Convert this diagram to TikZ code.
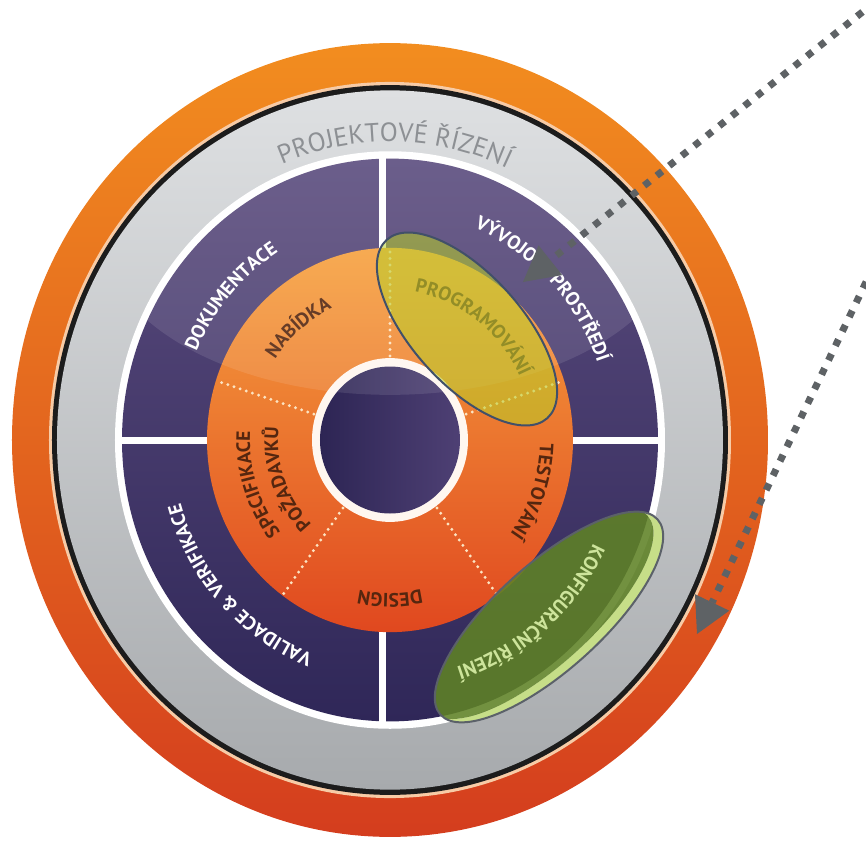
\documentclass[tikz,border=0pt]{standalone}
\usepackage{fontspec}
\usepackage{tikz}
\usetikzlibrary{arrows.meta}
\usetikzlibrary{decorations.text}

\newfontfamily\ptsans{PT Sans}

\definecolor{ringtop}{HTML}{F28D1F}
\definecolor{ringbottom}{HTML}{D43D1E}
\definecolor{peach}{HTML}{F7CBA6}
\definecolor{rimblack}{HTML}{1C1C1C}
\definecolor{greytop}{HTML}{DEE0E2}
\definecolor{greybottom}{HTML}{A7AAAD}
\definecolor{plumtop}{HTML}{5B4C7E}
\definecolor{plumbottom}{HTML}{2F2758}
\definecolor{disctop}{HTML}{F6A23F}
\definecolor{discmid}{HTML}{F08A22}
\definecolor{discbottom}{HTML}{E0481F}
\definecolor{hubleft}{HTML}{2D2554}
\definecolor{hubright}{HTML}{4E4074}
\definecolor{dotcream}{HTML}{FCE4C2}
\definecolor{titlegrey}{HTML}{8D9094}
\definecolor{phasebrown}{HTML}{55260F}
\definecolor{marker}{HTML}{B8D027}
\definecolor{slate}{HTML}{415069}
\definecolor{moss}{HTML}{5F8226}
\definecolor{lime}{HTML}{C6DE88}
\definecolor{limetext}{HTML}{CDE49B}
\definecolor{rimgrey}{HTML}{5B6169}
\definecolor{arrowgrey}{HTML}{5E6265}

\newcommand\titletext{\ptsans\fontsize{15}{17}\selectfont\color{titlegrey}}
\newcommand\quadtext{\ptsans\bfseries\fontsize{11}{13}\selectfont\color{white}}
\newcommand\phasetext{\ptsans\bfseries\fontsize{11}{13}\selectfont\color{phasebrown}}
\newcommand\cfgtext{\ptsans\bfseries\fontsize{11}{13}\selectfont\color{limetext}}

\begin{document}
\begin{tikzpicture}[
            x = 0.02cm, y = 0.02cm, % one unit = one pixel of the sketch
            > = {Triangle[length=7mm, width=7.6mm, line width=0pt]},
            ringlabel/.style = {decorate, decoration={text along path, text align=center, text={#1}}},
            crossbar/.style = {draw=white, line width=0.14cm},
            divider/.style = {draw=dotcream, line width=0.065cm, line cap=round, dash pattern=on 0pt off 0.13cm},
            pointer/.style = {draw=arrowgrey, line width=0.14cm, dash pattern=on 0.14cm off 0.18cm, ->}
        ]

        \useasboundingbox (-390,-403) rectangle (476,440);

	% RINGS (SKETCH IS A BIT TALLER THAN WIDE)
        \begin{scope}[yscale=1.05]
        \coordinate (hub) at (0,0);
        \shade[top color=ringtop, bottom color=ringbottom] (hub) circle (378);
        \fill[peach] (hub) circle (341);
        \fill[rimblack] (hub) circle (338);
        \shade[top color=greytop, bottom color=greybottom] (hub) circle (333);
        \fill[white] (hub) circle (275);
        \shade[top color=plumtop, bottom color=plumbottom] (hub) circle (268);
        \draw[crossbar] (-7,-272) -- (-7,272) (-272,0) -- (272,0);

	% PHASE DISC
        \shade[top color=disctop, middle color=discmid, bottom color=discbottom] (hub) circle (183);
        \foreach \a in {18,90,162,234,306}
            \draw[divider] (\a:80) -- (\a:183);
        \fill[white!94!orange] (hub) circle (78);
        \shade[left color=hubleft, right color=hubright] (hub) circle (70);

	% RING LABELS
        \path[ringlabel={|\titletext|PROJEKTOVÉ ŘÍZENÍ}] (128:284) arc[start angle=128, end angle=50, radius=284];
        \path[ringlabel={|\quadtext|DOKUMENTACE}] (169:211) arc[start angle=169, end angle=109, radius=211];
        \path[ringlabel={|\quadtext|VÝVOJO}] (89:219) arc[start angle=89, end angle=29, radius=219];
        \path[ringlabel={|\quadtext|PROSTŘEDÍ}] (66:220) arc[start angle=66, end angle=-2, radius=220];
        \path[ringlabel={|\quadtext|VALIDACE {\&} VERIFIKACE}] (263:218) arc[start angle=263, end angle=183, radius=218];

        \path[ringlabel={|\phasetext|NABÍDKA}] (170:138) arc[start angle=170, end angle=90, radius=138];
        \path[ringlabel={|\phasetext|PROGRAMOVÁNÍ}] (103:143) arc[start angle=103, end angle=3, radius=143];
        \path[ringlabel={|\phasetext|TESTOVÁNÍ}] (30:150) arc[start angle=30, end angle=-69, radius=150];
        \path[ringlabel={|\phasetext|DESIGN}] (320:146) arc[start angle=320, end angle=220, radius=146];
        \path[ringlabel={|\phasetext|SPECIFIKACE}] (248:140) arc[start angle=248, end angle=148, radius=140];
        \path[ringlabel={|\phasetext|POŽADAVKŮ}] (250:112) arc[start angle=250, end angle=150, radius=112];

	% GLOSS ON THE UPPER HALF
        \begin{scope}
        \clip (hub) circle (268);
        \fill[white, opacity=0.1] (0,200) ellipse [x radius=290, y radius=157];
        \end{scope}
        \end{scope}

	% MARKED PHASE
        \begin{scope}[shift={(77,111)}, rotate=-48]
        \coordinate (progfocus) at (0,0);
        \fill[marker, opacity=0.55] (progfocus) ellipse [x radius=120, y radius=55];
        \draw[slate, line width=0.04cm] (progfocus) ellipse [x radius=120, y radius=55];
        \end{scope}

	% MARKED CONFIGURATION
        \begin{scope}[shift={(159,-177)}, rotate=42]
        \coordinate (cfgfocus) at (0,0);
        \begin{scope}
        \clip (cfgfocus) ellipse [x radius=146, y radius=53];
        \fill[lime, even odd rule] (cfgfocus) ellipse [x radius=146, y radius=53] (-5,9) ellipse [x radius=146, y radius=53];
        \fill[moss, opacity=0.88] (-5,9) ellipse [x radius=146, y radius=53];
        \end{scope}
        \draw[rimgrey, line width=0.04cm] (cfgfocus) ellipse [x radius=146, y radius=53];
        \end{scope}

        \begin{scope}[yscale=1.05]
        \path[ringlabel={|\cfgtext|KONFIGURAČNÍ ŘÍZENÍ}] (0:226) arc[start angle=0, end angle=-100, radius=226];
        \end{scope}

	% POINTERS FROM OUTSIDE
        \coordinate (devsrc) at (485,438);
        \coordinate (devtip) at (133,158);
        \coordinate (cfgsrc) at (490,187);
        \coordinate (cfgtip) at (307,-194);

        \draw[pointer] (devsrc) -- (devtip);
        \draw[pointer] (cfgsrc) -- (cfgtip);

  \end{tikzpicture}
\end{document}
